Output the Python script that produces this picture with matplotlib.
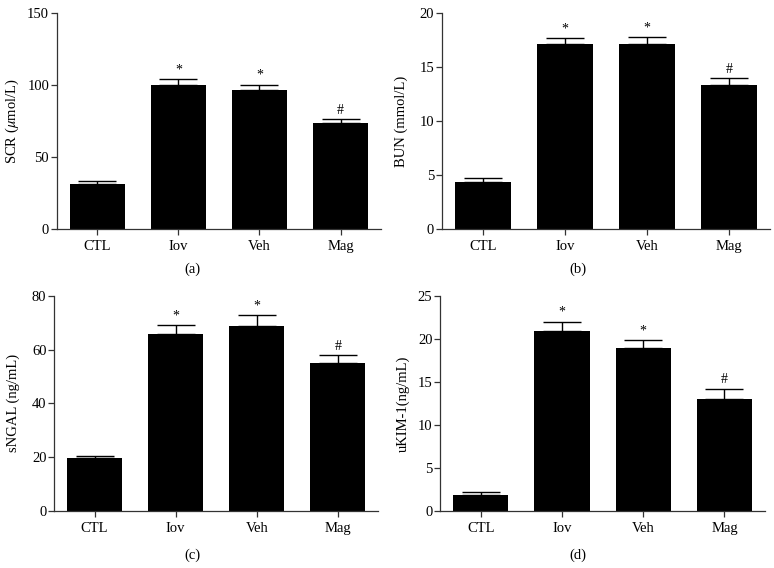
import matplotlib
matplotlib.use("Agg")
import matplotlib.pyplot as plt

plt.rcParams['font.family'] = ['Liberation Serif', 'DejaVu Serif']
plt.rcParams['mathtext.fontset'] = 'stix'

groups = ["CTL", "Iov", "Veh", "Mag"]
marks = ["", "*", "*", "#"]

scr = [31.4, 100.3, 96.2, 73.5]
scr_err = [2.2, 3.6, 4.0, 2.6]

bun = [4.35, 17.15, 17.15, 13.35]
bun_err = [0.38, 0.55, 0.6, 0.6]

sngal = [19.8, 65.8, 68.7, 55.0]
sngal_err = [0.6, 3.2, 4.0, 2.8]

ukim = [1.8, 20.85, 18.95, 13.0]
ukim_err = [0.35, 1.15, 0.85, 1.15]

panels = [
    # values, errors, ylabel, yticks, letter, axes rect, ylabel x, letter xy
    (scr, scr_err, r"SCR ($\mu$mol/L)", [0, 50, 100, 150], "(a)",
     [0.0733, 0.5968, 0.419, 0.3803], -0.110, (0.249, 0.526)),
    (bun, bun_err, "BUN (mmol/L)", [0, 5, 10, 15, 20], "(b)",
     [0.5707, 0.5968, 0.4242, 0.3803], -0.102, (0.747, 0.526)),
    (sngal, sngal_err, "sNGAL (ng/mL)", [0, 20, 40, 60, 80], "(c)",
     [0.0698, 0.1004, 0.419, 0.379], -0.105, (0.248, 0.023)),
    (ukim, ukim_err, "uKIM-1(ng/mL)", [0, 5, 10, 15, 20, 25], "(d)",
     [0.5685, 0.1004, 0.420, 0.379], -0.092, (0.747, 0.023)),
]

fig = plt.figure(figsize=(7.74, 5.68), dpi=100)

for vals, errs, ylab, yt, letter, rect, ylx, lxy in panels:
    ax = fig.add_axes(rect)
    x = range(len(groups))
    ax.bar(x, vals, width=0.68, color="black", zorder=2)
    ax.errorbar(x, vals, yerr=[[0] * len(errs), errs], fmt="none",
                ecolor="black", elinewidth=1, capsize=14, capthick=1, zorder=3)
    for i, m in enumerate(marks):
        if m:
            ax.annotate(m, (i, vals[i] + errs[i]), xytext=(0, 2),
                        textcoords="offset points", ha="center", va="bottom",
                        fontsize=10)
    ax.set_xlim(-0.5, 3.5)
    ax.set_ylim(yt[0], yt[-1])
    ax.set_yticks(yt)
    ax.set_xticks(list(x))
    ax.set_xticklabels(groups)
    ax.set_ylabel(ylab, fontsize=10.5)
    ax.yaxis.set_label_coords(ylx, 0.5)
    ax.spines["top"].set_visible(False)
    ax.spines["right"].set_visible(False)
    for s in ("left", "bottom"):
        ax.spines[s].set_linewidth(0.9)
        ax.spines[s].set_color("#333333")
    ax.tick_params(axis="both", labelsize=10.5, length=4, width=0.9, color="#333333")
    ax.tick_params(axis="y", pad=1.5)
    ax.tick_params(axis="x", pad=4)
    fig.text(lxy[0], lxy[1], letter, ha="center", va="center", fontsize=10.5)

fig.savefig("out.png", dpi=100)
